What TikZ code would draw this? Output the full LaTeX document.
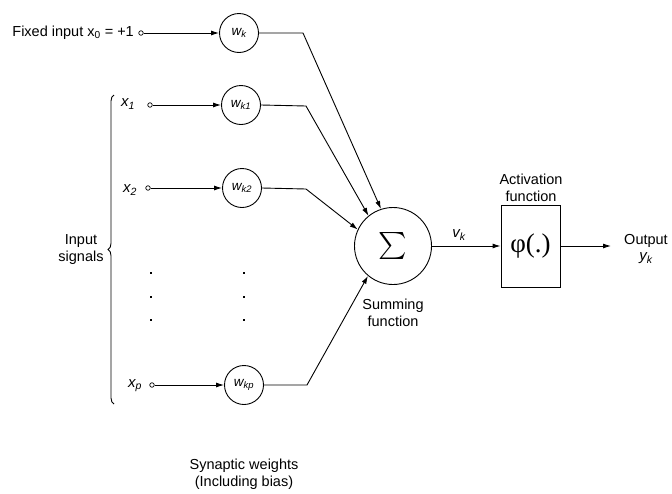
\documentclass[tikz,border=0pt]{standalone}
\usepackage{fontspec}
\setmainfont{Liberation Sans}
\newfontfamily\phifont{Liberation Serif}
\usetikzlibrary{arrows.meta,decorations.pathreplacing}
\begin{document}
\begin{tikzpicture}[x=1pt,y=-1pt,
  txt/.style={font=\fontsize{14.5}{17}\selectfont, inner sep=0pt, align=center},
  lbl/.style={font=\fontsize{15}{17}\selectfont\itshape, inner sep=0pt},
  wt/.style={circle, draw, line width=0.9pt, minimum size=39pt, inner sep=0pt, font=\fontsize{13.5}{15}\selectfont\itshape},
  inpt/.style={circle, draw, line width=0.7pt, minimum size=4.5pt, inner sep=0pt},
  wire/.style={line width=0.9pt},
  arr/.style={wire, -{Latex[length=8pt,width=5pt]}},
  dotmark/.style={fill=black, minimum size=2.6pt, inner sep=0pt, rectangle},
]
\useasboundingbox (0,0) rectangle (672,493);

% fixed input row
\node[txt, anchor=east] (fixed) at (134,33) {Fixed input x\textsubscript{0} = +1};
\node[inpt] (in0) at (141,33) {};
\node[wt] (wk) at (239,33) {w\textsubscript{k}};
\coordinate (c0) at (303,33);

% x1 row
\node[lbl] (x1) at (128,104) {x\textsubscript{1}};
\node[inpt] (in1) at (150,105) {};
\node[wt] (wk1) at (241,105) {w\textsubscript{k1}};
\coordinate (c1) at (306,106);

% x2 row
\node[lbl] (x2) at (130,190) {x\textsubscript{2}};
\node[inpt] (in2) at (148,188) {};
\node[wt] (wk2) at (242,188) {w\textsubscript{k2}};
\coordinate (c2) at (306,189);

% xp row
\node[lbl] (xp) at (135,386) {x\textsubscript{p}};
\node[inpt] (inp) at (152,385) {};
\node[wt] (wkp) at (244,385) {w\textsubscript{kp}};
\coordinate (cp) at (307,385);

% dots
\foreach \yy [count=\i] in {273,297,320} {
  \node[dotmark] (da\i) at (151,\yy) {};
  \node[dotmark] (db\i) at (244,\yy) {};
}

% brace and label
\coordinate (bb) at (114,404);
\coordinate (bt) at (114,95);
\draw[line width=0.9pt, decorate, decoration={brace, amplitude=6pt}] (bb) -- (bt);
\node[txt] (insig) at (81,250) {Input\\signals};

% summing junction
\node[circle, draw, line width=0.9pt, minimum size=77pt, inner sep=0pt] (sum) at (393,246) {\scalebox{2.7}{$\sum$}};
\node[txt] (sumlbl) at (393,313) {Summing\\function};

% activation
\node[rectangle, draw, line width=0.9pt, minimum width=59pt, minimum height=82pt, inner sep=0pt] (act) at (530.5,246) {\phifont\fontsize{27}{27}\selectfont φ(.)};
\node[txt] (actlbl) at (531,188) {Activation\\function};

\node[lbl] (vk) at (459,235) {v\textsubscript{k}};

\coordinate (outend) at (611,246);
\node[txt] (outlbl) at (646,241) {Output};
\node[lbl] (yk) at (646,258) {y\textsubscript{k}};

% connectors
\draw[arr] (in0) -- (wk);
\draw[arr] (in1) -- (wk1);
\draw[arr] (in2) -- (wk2);
\draw[arr] (inp) -- (wkp);
\draw[arr] (wk.east) -- (c0) -- (sum.108);
\draw[arr] (wk1.east) -- (c1) -- (sum.129);
\draw[arr] (wk2.east) -- (c2) -- (sum.155);
\draw[arr] (wkp.east) -- (cp) -- (sum.230);
\draw[arr] (sum.east) -- (act.west);
\draw[arr] (act.east) -- (outend);

\node[txt] (syn) at (244,474) {Synaptic weights\\(Including bias)};
\end{tikzpicture}
\end{document}
